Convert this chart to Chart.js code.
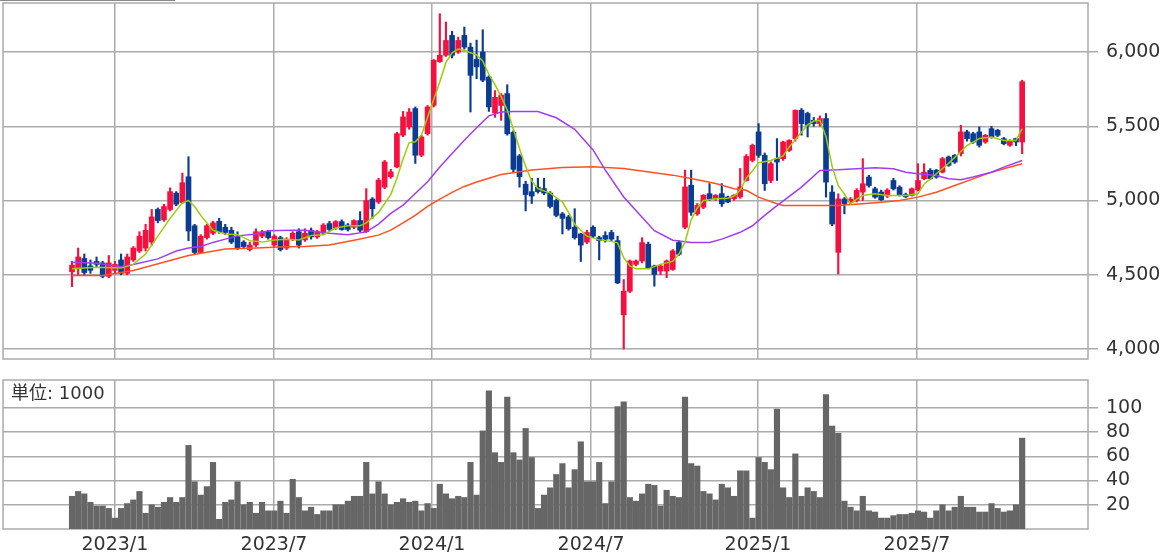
<!DOCTYPE html>
<html>
<head>
<meta charset="utf-8">
<script src="https://cdn.jsdelivr.net/npm/chart.js@4.4.1/dist/chart.umd.min.js"></script>
<style>
  html, body { margin: 0; padding: 0; background: #fff; }
  #wrap { position: relative; width: 1171px; height: 554px; }
  #price { position: absolute; left: 0; top: 0; }
  #volume { position: absolute; left: 0; top: 372px; }
</style>
</head>
<body>
<div id="wrap">
  <canvas id="price" width="1171" height="372"></canvas>
  <canvas id="volume" width="1171" height="182"></canvas>
</div>
<script>
// weekly candles, index 0 = first week shown
const opens = [4520,4540,4610,4560,4590,4580,4490,4530,4600,4510,
  4600,4660,4680,4720,4940,4870,4940,5050,4985,5160,
  4830,4650,4750,4780,4860,4820,4800,4760,4720,4670,
  4700,4760,4790,4700,4750,4680,4740,4790,4735,4800,
  4755,4780,4845,4815,4858,4835,4820,4865,4790,5010,
  4990,5090,5160,5226,5440,5496,5619,5305,5450,5641,
  5935,5978,6112,6000,6112,6033,5950,6000,5832,5590,
  5640,5720,5460,5300,5110,5060,5090,5080,5050,5000,
  4910,4890,4820,4775,4720,4820,4750,4765,4785,4730,
  4230,4389,4570,4593,4706,4559,4525,4525,4536,4717,
  4820,5103,4910,4955,5046,5012,5046,5024,5012,5024,
  5135,5270,5462,5304,5135,5282,5282,5338,5417,5608,
  5586,5540,5518,5552,5057,4651,5011,4990,5000,5057,
  5158,5079,5057,5030,5135,5090,5040,5034,5072,5147,
  5203,5203,5191,5293,5304,5315,5462,5450,5462,5394,
  5484,5473,5417,5372,5417,5394];
const highs = [4590,4680,4640,4600,4620,4590,4630,4590,4640,4640,
  4690,4790,4840,4940,4950,4975,5085,5060,5185,5295,
  4840,4770,4840,4860,4880,4840,4820,4790,4730,4720,
  4810,4800,4800,4770,4760,4750,4790,4810,4810,4815,
  4800,4845,4860,4865,4870,4845,4870,4925,5080,5020,
  5150,5270,5210,5460,5600,5620,5630,5440,5640,5950,
  6258,6202,6140,6100,6168,6060,6080,6150,5840,5740,
  5720,5780,5470,5310,5130,5150,5150,5150,5060,5010,
  4920,4900,4945,4780,4800,4830,4760,4790,4800,4760,
  4468,4600,4600,4750,4720,4565,4570,4600,4670,4730,
  5205,5205,4980,5040,5114,5040,5114,5030,5040,5216,
  5310,5380,5518,5320,5260,5417,5400,5410,5610,5620,
  5595,5560,5570,5586,5100,5045,5020,5020,5080,5282,
  5170,5090,5070,5080,5150,5100,5050,5085,5248,5248,
  5215,5210,5290,5300,5310,5507,5473,5460,5496,5445,
  5500,5480,5425,5410,5420,5810];
const lows = [4420,4500,4500,4510,4550,4480,4480,4510,4500,4500,
  4590,4650,4660,4700,4850,4860,4930,4965,4980,4730,
  4640,4645,4740,4770,4780,4770,4710,4670,4680,4660,
  4690,4750,4740,4690,4660,4670,4730,4680,4725,4740,
  4745,4770,4795,4805,4800,4795,4810,4790,4785,4880,
  4980,5080,5150,5220,5430,5480,5250,5295,5440,5630,
  5930,5970,5960,5990,6020,5596,5820,5800,5600,5560,
  5540,5440,5190,5090,4930,4980,5050,5040,4950,4890,
  4775,4800,4740,4590,4710,4750,4600,4720,4730,4440,
  4000,4380,4560,4580,4540,4423,4500,4480,4530,4630,
  4810,4900,4900,4945,5000,5000,4960,4985,5000,5015,
  5130,5260,5290,5068,5120,5135,5270,5330,5400,5440,
  5428,5500,5500,5023,4830,4505,4910,4980,4990,5000,
  5090,5015,5000,5020,5070,5030,5020,5030,5065,5140,
  5140,5150,5185,5230,5250,5300,5400,5385,5360,5385,
  5420,5430,5375,5365,5370,5315];
const closes = [4565,4620,4515,4530,4570,4490,4580,4570,4510,4620,
  4680,4760,4800,4890,4865,4960,5060,4975,5120,4795,
  4650,4760,4830,4850,4790,4785,4720,4680,4690,4700,
  4790,4790,4750,4760,4670,4740,4780,4700,4780,4755,
  4790,4835,4805,4858,4805,4805,4865,4800,5000,4945,
  5137,5260,5193,5450,5563,5596,5305,5428,5630,5944,
  5978,6078,5978,6078,6033,5843,5900,5810,5630,5695,
  5710,5450,5210,5160,5040,5030,5060,5050,4960,4900,
  4880,4810,4750,4700,4785,4760,4730,4740,4740,4445,
  4390,4593,4593,4717,4548,4502,4559,4593,4661,4638,
  5092,4921,4967,5035,5012,5035,4978,4990,5035,5092,
  5297,5372,5304,5113,5248,5259,5394,5405,5608,5518,
  5507,5518,5552,5124,4842,5011,4978,5010,5068,5113,
  5101,5023,5005,5070,5079,5034,5025,5079,5135,5191,
  5147,5158,5282,5237,5259,5462,5417,5394,5372,5439,
  5428,5439,5383,5405,5394,5800];
// volume in thousands
const volumes = [27,31,29,22,19,19,17,9,17,21,
  24,31,13,20,18,22,26,22,26,69,
  39,28,35,55,8,22,24,39,20,22,
  13,22,15,15,23,13,41,26,15,18,
  12,15,15,20,20,23,27,27,55,29,
  39,29,20,22,25,22,23,15,21,17,
  37,29,25,27,26,55,28,81,114,63,
  55,109,63,57,83,59,17,28,34,45,
  54,34,49,72,39,39,55,21,39,101,
  105,26,23,29,37,36,19,32,27,26,
  109,54,52,31,29,24,37,34,27,48,
  48,9,59,55,49,99,34,26,62,27,
  34,31,26,111,85,79,23,18,15,27,
  15,14,9,9,11,12,12,13,15,14,
  9,15,20,15,18,27,18,18,14,14,
  21,17,14,15,20,75];

// moving averages: [week, price]
const fastMA = [[0,4540],[4,4550],[8,4545],[10,4570],[12,4640],[14,4760],[16,4880],[18,4985],[19,5000],
  [20,4960],[21,4900],[23,4800],[25,4775],[27,4770],[29,4730],[31,4720],[33,4735],[35,4740],[37,4735],
  [39,4765],[41,4770],[43,4815],[45,4830],[47,4830],[48,4850],[50,4920],[52,5040],[53,5150],[54,5280],
  [55,5390],[56,5395],[57,5440],[58,5560],[59,5680],[60,5800],[61,5930],[62,5995],[63,6020],[64,6010],
  [66,5980],[67,5940],[68,5850],[69,5780],[70,5700],[71,5610],[72,5480],[73,5350],[74,5230],[75,5130],
  [76,5080],[78,5050],[80,4990],[81,4920],[82,4840],[84,4760],[86,4735],[88,4725],[89,4715],[90,4615],
  [91,4560],[92,4540],[94,4540],[96,4570],[98,4590],[99,4640],[100,4720],[101,4870],[102,4950],[103,5000],
  [105,5012],[107,5015],[108,5030],[109,5070],[110,5150],[111,5200],[112,5255],[114,5270],[116,5300],
  [117,5360],[119,5460],[120,5510],[121,5535],[122,5540],[123,5430],[124,5230],[125,5100],[126,5045],
  [127,4978],[128,5010],[129,5034],[131,5045],[133,5034],[136,5034],[138,5045],[139,5110],[141,5180],
  [143,5250],[145,5330],[146,5370],[148,5417],[150,5428],[152,5405],[154,5405],[155,5484]];
const midMA = [[0,4585],[4,4578],[8,4555],[10,4570],[14,4607],[17,4660],[19,4680],[21,4690],[23,4718],
  [25,4740],[27,4762],[30,4775],[32,4796],[36,4800],[38,4800],[42,4780],[45,4770],[48,4789],[50,4841],
  [52,4913],[54,4969],[56,5047],[58,5126],[60,5226],[62,5316],[64,5406],[66,5490],[68,5570],[70,5596],
  [72,5600],[76,5600],[79,5557],[82,5480],[85,5341],[87,5205],[90,5024],[93,4888],[95,4797],[98,4733],
  [101,4718],[104,4718],[106,4740],[109,4786],[111,4830],[113,4900],[115,4966],[119,5090],[122,5203],
  [125,5207],[128,5214],[131,5221],[134,5214],[136,5191],[138,5180],[141,5169],[143,5147],[145,5140],
  [147,5158],[150,5191],[152,5225],[155,5270]];
const slowMA = [[0,4496],[5,4496],[10,4529],[13,4563],[16,4596],[19,4630],[22,4651],[25,4674],[30,4680],
  [35,4689],[38,4690],[42,4700],[46,4733],[50,4767],[52,4801],[54,4850],[56,4900],[58,4960],[60,5010],
  [62,5055],[64,5095],[66,5125],[68,5150],[70,5175],[75,5205],[80,5223],[85,5228],[90,5216],[95,5187],
  [98,5171],[101,5148],[105,5114],[108,5080],[110,5069],[112,5023],[115,4978],[116,4966],[125,4966],
  [129,4978],[132,4989],[135,5000],[138,5023],[141,5056],[144,5101],[147,5146],[150,5191],[152,5214],
  [155,5248]];

const monthWeeks = [7.0, 32.95, 58.73, 84.67, 111.9, 137.85];
const monthLabels = ['2023/1', '2023/7', '2024/1', '2024/7', '2025/1', '2025/7'];
const priceTicks = [4000, 4500, 5000, 5500, 6000];
const volumeTicks = [20, 40, 60, 80, 100];

const UP = '#f6103f';
const DOWN = '#0c3c91';
const GRID = '#ababab';
const TEXT = '#333';
const FONT = "'DejaVu Sans', 'Noto Sans CJK JP', sans-serif";
const X_MIN = -11.26, X_MAX = 165.74;

const weeks = closes.map((c, i) => i);
const candleColors = closes.map((c, i) => (c >= opens[i] ? UP : DOWN));
const toPoints = arr => arr.map(p => ({ x: p[0], y: p[1] }));

const frame = {
  id: 'frame',
  beforeDatasetsDraw(chart) {
    const { ctx, chartArea: a } = chart;
    ctx.save();
    ctx.strokeStyle = GRID;
    ctx.lineWidth = 1.5;
    ctx.strokeRect(a.left, a.top, a.right - a.left, a.bottom - a.top);
    ctx.restore();
  }
};

const topLine = {
  id: 'topLine',
  afterDraw(chart) {
    const ctx = chart.ctx;
    ctx.save();
    ctx.strokeStyle = '#8a8a8a';
    ctx.lineWidth = 1;
    ctx.beginPath();
    ctx.moveTo(0, 0.5);
    ctx.lineTo(175, 0.5);
    ctx.stroke();
    ctx.restore();
  }
};

const unitLabel = {
  id: 'unitLabel',
  afterDraw(chart) {
    const { ctx, chartArea: a } = chart;
    ctx.save();
    ctx.fillStyle = TEXT;
    ctx.font = '18px ' + FONT;
    ctx.textBaseline = 'middle';
    ctx.fillText('単位: 1000', a.left + 8, a.top + 14);
    ctx.restore();
  }
};

// right-hand value labels, drawn here so they don't pad the plot area
function sideLabels(values, format) {
  return {
    id: 'sideLabels',
    afterDraw(chart) {
      const { ctx, chartArea: a, scales } = chart;
      ctx.save();
      ctx.fillStyle = TEXT;
      ctx.font = '19px ' + FONT;
      ctx.textBaseline = 'middle';
      values.forEach(v => {
        ctx.fillText(format(v), a.right + 18, scales.y.getPixelForValue(v));
      });
      ctx.restore();
    }
  };
}

function maLine(points, color, order) {
  return {
    type: 'line',
    data: toPoints(points),
    borderColor: color,
    borderWidth: 1.5,
    pointRadius: 0,
    fill: false,
    tension: 0,
    order: order
  };
}

new Chart(document.getElementById('price'), {
  type: 'bar',
  data: {
    datasets: [
      maLine(fastMA, '#9acd0a', 1),
      maLine(midMA, '#a23cf2', 2),
      maLine(slowMA, '#ff5222', 3),
      {
        data: weeks.map(i => ({ x: i, y: [opens[i], closes[i]] })),
        backgroundColor: candleColors,
        barThickness: 5,
        order: 4
      },
      {
        data: weeks.map(i => ({ x: i, y: [lows[i], highs[i]] })),
        backgroundColor: candleColors,
        barThickness: 1.5,
        order: 5
      }
    ]
  },
  options: {
    responsive: false,
    animation: false,
    layout: { padding: { top: 3, left: 3, right: 0, bottom: 13 } },
    datasets: { bar: { grouped: false } },
    plugins: { legend: { display: false }, tooltip: { enabled: false } },
    scales: {
      x: {
        type: 'linear',
        min: X_MIN,
        max: X_MAX,
        offset: false,
        afterBuildTicks: s => { s.ticks = monthWeeks.map(v => ({ value: v })); },
        afterFit: s => { s.height = 0; },
        ticks: { display: false },
        grid: { color: GRID, lineWidth: 1.5, drawTicks: false, offset: false },
        border: { display: false }
      },
      y: {
        position: 'right',
        min: 3933,
        max: 6330,
        afterBuildTicks: s => { s.ticks = priceTicks.map(v => ({ value: v })); },
        afterFit: s => { s.width = 83; },
        ticks: { display: false },
        grid: { color: GRID, lineWidth: 1.5, tickLength: 10 },
        border: { display: false }
      }
    }
  },
  plugins: [frame, topLine, sideLabels(priceTicks, v => v.toLocaleString('en-US'))]
});

new Chart(document.getElementById('volume'), {
  type: 'bar',
  data: {
    datasets: [{
      data: weeks.map(i => ({ x: i, y: volumes[i] })),
      backgroundColor: '#666666',
      barThickness: 5.5
    }]
  },
  options: {
    responsive: false,
    animation: false,
    layout: { padding: { top: 8, left: 3, right: 0, bottom: 0 } },
    plugins: { legend: { display: false }, tooltip: { enabled: false } },
    scales: {
      x: {
        type: 'linear',
        min: X_MIN,
        max: X_MAX,
        offset: false,
        afterBuildTicks: s => { s.ticks = monthWeeks.map(v => ({ value: v })); },
        afterFit: s => { s.height = 25; },
        ticks: {
          padding: 5,
          maxRotation: 0,
          autoSkip: false,
          color: TEXT,
          font: { family: FONT, size: 19 },
          callback: (v, i) => monthLabels[i]
        },
        grid: { color: GRID, lineWidth: 1.5, drawTicks: false, offset: false },
        border: { display: false }
      },
      y: {
        position: 'right',
        min: 0,
        max: 123,
        afterBuildTicks: s => { s.ticks = volumeTicks.map(v => ({ value: v })); },
        afterFit: s => { s.width = 83; },
        ticks: { display: false },
        grid: { color: GRID, lineWidth: 1.5, tickLength: 10 },
        border: { display: false }
      }
    }
  },
  plugins: [frame, unitLabel, sideLabels(volumeTicks, v => String(v))]
});
</script>
</body>
</html>
